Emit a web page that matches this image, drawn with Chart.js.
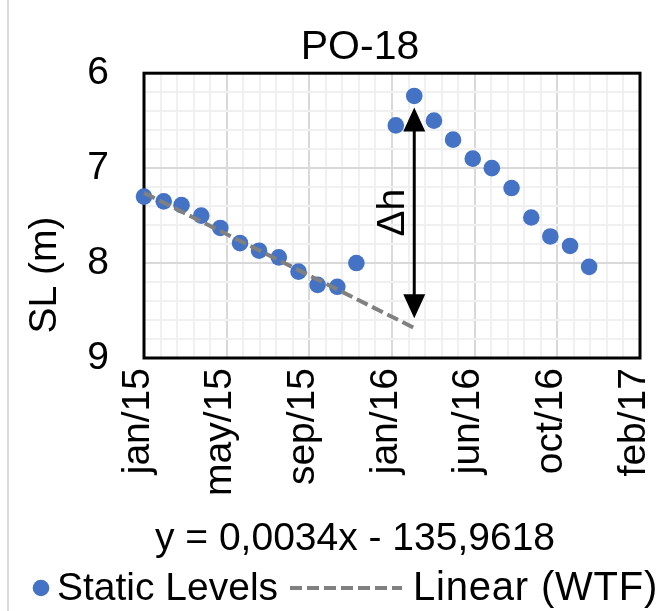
<!DOCTYPE html>
<html lang="en">
<head>
  <meta charset="UTF-8" />
  <title>PO-18</title>
  <script src="https://cdn.jsdelivr.net/npm/chart.js"></script>
  <style>
    body { margin: 0; background: #fff; overflow: hidden; }
    .wrap { width: 661px; height: 611px; overflow: hidden; }
    canvas { display: block; }
  </style>
</head>
<body>
  <div class="wrap"><canvas id="chart" width="712" height="611"></canvas></div>
  <script>
    const FONT = "'Liberation Sans', Arial, sans-serif";

    // monthly static level readings (no reading in jan/16)
    const dates = [
      '2015-01-01', '2015-02-01', '2015-03-01', '2015-04-01', '2015-05-01', '2015-06-01',
      '2015-07-01', '2015-08-01', '2015-09-01', '2015-10-01', '2015-11-01', '2015-12-01',
      '2016-02-01', '2016-03-01', '2016-04-01', '2016-05-01', '2016-06-01', '2016-07-01',
      '2016-08-01', '2016-09-01', '2016-10-01', '2016-11-01', '2016-12-01'
    ];
    const levels = [
      7.30, 7.35, 7.39, 7.50, 7.63, 7.79, 7.87, 7.94, 8.09, 8.23, 8.25, 8.00,
      6.55, 6.24, 6.50, 6.70, 6.90, 7.00, 7.21, 7.52, 7.72, 7.82, 8.04
    ];

    // linear trend (WTF), end points
    const trendDates = ['2015-01-01', '2016-03-06'];
    const trendLevels = [7.26, 8.70];

    const tickLabels = ['jan/15', 'may/15', 'sep/15', 'jan/16', 'jun/16', 'oct/16', 'feb/17'];
    const yTicks = [6, 7, 8, 9];

    // delta h arrow
    const arrowDate = '2016-03-01';
    const arrowLevels = [6.36, 8.58];
    const equation = 'y = 0,0034x - 135,9618';

    const start = Date.UTC(2015, 0, 1);
    const toDay = s => (Date.parse(s) - start) / 86400000;
    const MAJOR = 130, MINOR = 26;
    const isWhole = v => Math.abs(v - Math.round(v)) < 1e-6;

    const extras = {
      id: 'extras',
      beforeDraw(chart) {
        const ctx = chart.ctx;
        ctx.save();
        ctx.fillStyle = '#fff';
        ctx.fillRect(0, 0, chart.width, chart.height);
        ctx.strokeStyle = '#d9d9d9';
        ctx.lineWidth = 2;
        ctx.beginPath();
        ctx.moveTo(8, 0);
        ctx.lineTo(8, chart.height);
        ctx.stroke();
        ctx.restore();
      },
      beforeDatasetsDraw(chart) {
        const a = chart.chartArea, ctx = chart.ctx;
        ctx.save();
        ctx.strokeStyle = '#000';
        ctx.lineWidth = 3;
        ctx.strokeRect(a.left, a.top, a.right - a.left, a.bottom - a.top);
        ctx.restore();
      },
      afterDatasetsDraw(chart) {
        const ctx = chart.ctx, xs = chart.scales.x, ys = chart.scales.y;
        const x = xs.getPixelForValue(toDay(arrowDate));
        const y1 = ys.getPixelForValue(arrowLevels[0]);
        const y2 = ys.getPixelForValue(arrowLevels[1]);
        ctx.save();
        ctx.strokeStyle = '#000';
        ctx.fillStyle = '#000';
        ctx.lineWidth = 3;
        ctx.beginPath();
        ctx.moveTo(x, y1 + 20);
        ctx.lineTo(x, y2 - 20);
        ctx.stroke();
        ctx.beginPath();
        ctx.moveTo(x, y1); ctx.lineTo(x - 11, y1 + 24); ctx.lineTo(x + 11, y1 + 24); ctx.closePath();
        ctx.moveTo(x, y2); ctx.lineTo(x - 11, y2 - 24); ctx.lineTo(x + 11, y2 - 24); ctx.closePath();
        ctx.fill();
        ctx.translate(x - 10, (y1 + y2) / 2);
        ctx.rotate(-Math.PI / 2);
        ctx.font = `39px ${FONT}`;
        ctx.textAlign = 'center';
        ctx.fillText('Δh', 0, 0);
        ctx.restore();
      },
      afterDraw(chart) {
        const ctx = chart.ctx, ds = chart.data.datasets;
        ctx.save();
        ctx.fillStyle = '#000';
        ctx.font = `39px ${FONT}`;
        // y axis title
        ctx.save();
        ctx.translate(56, 275);
        ctx.rotate(-Math.PI / 2);
        ctx.textAlign = 'center';
        ctx.fillText('SL (m)', 0, 0);
        ctx.restore();
        // trend equation
        ctx.textAlign = 'center';
        ctx.fillText(equation, 355, 550);
        // legend
        ctx.textAlign = 'left';
        ctx.fillStyle = ds[1].backgroundColor;
        ctx.beginPath();
        ctx.arc(41, 588, 8.3, 0, Math.PI * 2);
        ctx.fill();
        ctx.fillStyle = '#000';
        ctx.fillText(ds[1].label, 57, 600);
        ctx.strokeStyle = ds[0].borderColor;
        ctx.lineWidth = 4;
        ctx.setLineDash(ds[0].borderDash);
        ctx.beginPath();
        ctx.moveTo(290, 588);
        ctx.lineTo(402, 588);
        ctx.stroke();
        ctx.font = `40px ${FONT}`;
        ctx.letterSpacing = '0.8px';
        ctx.fillText(ds[0].label, 413, 600);
        ctx.restore();
      }
    };

    new Chart(document.getElementById('chart'), {
      type: 'scatter',
      data: {
        datasets: [{
          label: 'Linear (WTF)',
          data: trendDates.map((d, i) => ({ x: toDay(d), y: trendLevels[i] })),
          showLine: true,
          borderColor: '#808080',
          borderWidth: 4,
          borderDash: [12, 5],
          pointRadius: 0,
          order: 0,
          clip: false
        }, {
          label: 'Static Levels',
          data: dates.map((d, i) => ({ x: toDay(d), y: levels[i] })),
          backgroundColor: '#4472c4',
          borderWidth: 0,
          pointRadius: 8.3,
          pointHoverRadius: 8.3,
          order: 1,
          clip: false
        }]
      },
      options: {
        responsive: false,
        animation: false,
        layout: { padding: { left: 8, right: 0, top: 0, bottom: 113 } },
        plugins: {
          legend: { display: false },
          tooltip: { enabled: false },
          title: {
            display: true,
            text: 'PO-18',
            color: '#000',
            font: { family: FONT, size: 41, weight: 'normal' },
            padding: { top: 23, bottom: 1 }
          }
        },
        scales: {
          x: {
            type: 'linear',
            min: 0,
            max: MAJOR * (tickLabels.length - 1),
            border: { display: false },
            grid: {
              drawTicks: false,
              lineWidth: 2,
              color: c => (c.tick && c.tick.value % MAJOR === 0) ? '#d9d9d9' : '#f0f0f0'
            },
            ticks: {
              stepSize: MINOR,
              autoSkip: false,
              minRotation: 90,
              maxRotation: 90,
              padding: 10,
              labelOffset: -6,
              color: '#000',
              font: { family: FONT, size: 39 },
              callback: v => v % MAJOR === 0 ? tickLabels[v / MAJOR] : ''
            },
            afterFit: s => { s.height = 140; }
          },
          y: {
            reverse: true,
            min: yTicks[0],
            max: yTicks[yTicks.length - 1],
            border: { display: false },
            grid: {
              drawTicks: false,
              lineWidth: 2,
              color: c => (c.tick && isWhole(c.tick.value)) ? '#d9d9d9' : '#f0f0f0'
            },
            ticks: {
              stepSize: 0.2,
              autoSkip: false,
              padding: 35,
              color: '#000',
              font: { family: FONT, size: 39 },
              callback: v => isWhole(v) ? String(Math.round(v)) : ''
            },
            afterFit: s => { s.width = 136; }
          },
          // empty right-hand strip, keeps the title centred on the whole chart box
          yRight: {
            position: 'right',
            min: 0,
            max: 1,
            grid: { display: false },
            border: { display: false },
            ticks: { display: false },
            afterFit: s => { s.width = 72; }
          }
        }
      },
      plugins: [extras]
    });
  </script>
</body>
</html>
